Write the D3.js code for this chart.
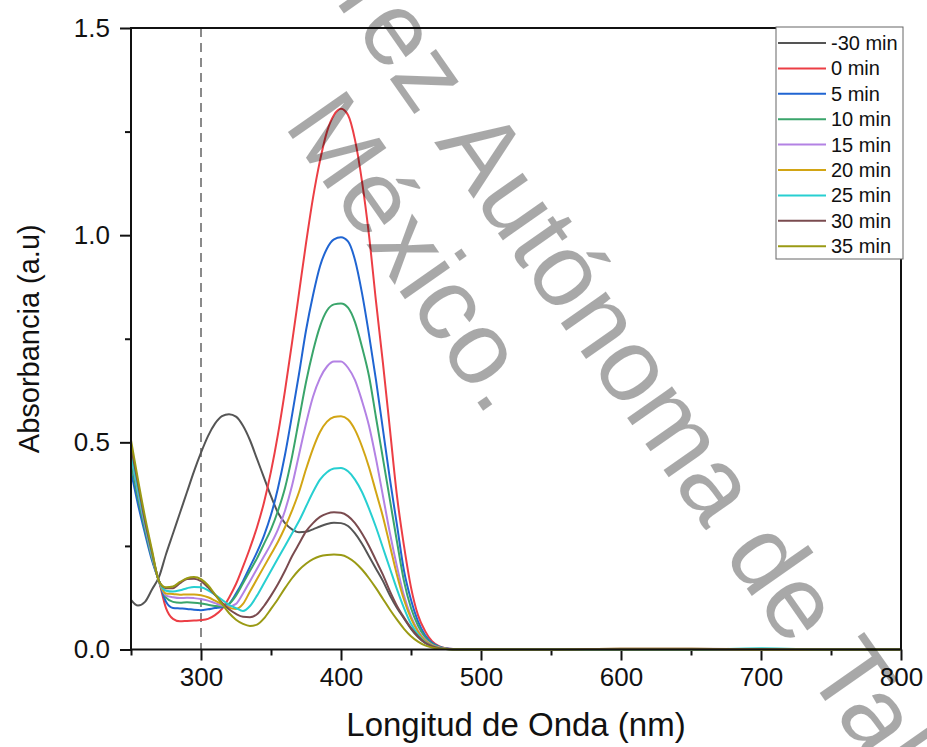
<!DOCTYPE html>
<html>
<head>
<meta charset="utf-8">
<script src="https://cdn.jsdelivr.net/npm/d3@7/dist/d3.min.js"></script>
<style>
  html, body { margin: 0; padding: 0; background: #fff; }
  svg { display: block; font-family: "Liberation Sans", Arial, sans-serif; }
</style>
</head>
<body>
<svg id="chart" width="927" height="747"></svg>
<script>
// Wavelength grid (nm)
const wavelengths = [250,255,260,265,270,275,280,285,290,295,300,305,310,315,320,325,330,335,340,345,
  350,355,360,365,370,375,380,385,390,395,400,405,410,415,420,425,430,435,440,445,
  450,455,460,465,470,475,480,490,500,550,600,650,700,750,800];

// Absorbance per sampling time
const absMinus30 = [.12,.106,.115,.145,.175,.23,.28,.33,.38,.43,.475,.515,.545,.563,.568,.562,.54,.505,.46,.415,
  .37,.33,.305,.29,.283,.284,.29,.297,.303,.306,.305,.298,.28,.255,.225,.195,.165,.13,.1,.075,
  .05,.03,.016,.008,.003,.001,0,0,0,0,0,0,0,0,0];
const abs0 = [.46,.37,.29,.22,.165,.10,.074,.068,.069,.07,.071,.074,.083,.098,.125,.158,.20,.245,.295,.355,
  .43,.52,.625,.74,.86,.98,1.09,1.18,1.25,1.29,1.305,1.29,1.23,1.13,1.0,.84,.69,.53,.37,.25,
  .15,.083,.045,.02,.008,.003,.001,0,0,0,0,0,0,0,0];
const abs5 = [.43,.35,.28,.215,.165,.115,.1,.099,.098,.096,.095,.097,.1,.102,.11,.135,.165,.20,.235,.275,
  .325,.39,.47,.565,.665,.77,.855,.925,.968,.99,.995,.985,.94,.86,.76,.65,.53,.41,.30,.19,
  .12,.068,.035,.016,.007,.003,.001,0,0,0,0,0,0,0,0];
const abs10 = [.45,.365,.29,.22,.165,.125,.115,.113,.114,.113,.111,.108,.105,.104,.11,.13,.16,.19,.22,.255,
  .29,.335,.39,.465,.555,.645,.72,.78,.818,.833,.835,.825,.79,.73,.66,.56,.46,.36,.26,.165,
  .1,.058,.03,.014,.006,.002,.001,0,0,0,0,0,0,0,0];
const abs15 = [.47,.38,.30,.225,.165,.13,.126,.124,.125,.124,.122,.118,.112,.106,.104,.11,.135,.165,.195,.225,
  .255,.29,.335,.395,.47,.545,.61,.655,.683,.695,.695,.68,.65,.60,.54,.46,.37,.28,.2,.13,
  .08,.046,.024,.011,.005,.002,.001,0,0,0,0,0,0,0,0];
const abs20 = [.48,.39,.31,.23,.165,.135,.134,.132,.133,.133,.131,.126,.118,.109,.101,.098,.11,.14,.17,.20,
  .23,.26,.295,.335,.38,.435,.485,.525,.55,.561,.563,.555,.53,.49,.44,.38,.32,.25,.18,.12,
  .075,.043,.022,.01,.004,.002,.001,0,0,0,.002,.002,0,0,0];
const abs25 = [.47,.385,.305,.23,.165,.142,.14,.143,.148,.151,.15,.143,.132,.12,.108,.1,.093,.105,.13,.16,
  .19,.22,.25,.28,.31,.345,.38,.41,.428,.437,.438,.43,.41,.38,.34,.295,.245,.195,.145,.1,
  .062,.036,.018,.008,.003,.001,0,0,0,0,0,0,.003,0,0];
const abs30 = [.49,.40,.31,.235,.165,.148,.148,.16,.17,.171,.165,.15,.132,.113,.097,.086,.079,.078,.085,.105,
  .13,.158,.19,.225,.255,.285,.305,.32,.328,.331,.33,.322,.305,.28,.25,.215,.18,.14,.105,.077,
  .052,.032,.017,.008,.003,.001,0,0,0,0,.002,.002,.001,0,0];
const abs35 = [.505,.41,.32,.24,.165,.15,.152,.163,.172,.175,.17,.155,.133,.11,.088,.072,.062,.057,.06,.075,
  .098,.122,.148,.172,.192,.207,.218,.225,.228,.229,.228,.222,.21,.193,.172,.148,.122,.096,.072,.05,
  .032,.019,.01,.005,.002,.001,0,0,0,0,0,0,0,0,0];

const seriesNames = ["-30 min","0 min","5 min","10 min","15 min","20 min","25 min","30 min","35 min"];
const seriesValues = [absMinus30, abs0, abs5, abs10, abs15, abs20, abs25, abs30, abs35];
const seriesColors = ["#555555","#ec3e45","#2065d2","#3aa56b","#b382e4","#d2a514","#27cfd1","#7a4b4f","#9a9a14"];

const xMajorTicks = [300,400,500,600,700,800];
const xMinorTicks = [250,350,450,550,650,750];
const yMajorTicks = [0,0.5,1.0,1.5];
const yMinorTicks = [0.25,0.75,1.25];
const markerWavelength = 300;

const svg = d3.select("#chart");
const W = 927, H = 747;
const margin = {left: 131, right: 26, top: 28, bottom: 97.5};

const x = d3.scaleLinear().domain([250, 800]).range([margin.left, W - margin.right]);
const y = d3.scaleLinear().domain([0, 1.5]).range([H - margin.bottom, margin.top]);

// Axes (ticks outward on left and bottom)
const fmtY = d3.format(".1f");
const gx = svg.append("g").attr("transform", `translate(0,${y(0)})`)
  .call(d3.axisBottom(x).tickValues(xMajorTicks).tickFormat(d3.format("d")).tickSize(11).tickPadding(7));
const gxMinor = svg.append("g").attr("transform", `translate(0,${y(0)})`)
  .call(d3.axisBottom(x).tickValues(xMinorTicks).tickFormat("").tickSize(6));
const gy = svg.append("g").attr("transform", `translate(${x(250)},0)`)
  .call(d3.axisLeft(y).tickValues(yMajorTicks).tickFormat(fmtY).tickSize(11).tickPadding(10));
const gyMinor = svg.append("g").attr("transform", `translate(${x(250)},0)`)
  .call(d3.axisLeft(y).tickValues(yMinorTicks).tickFormat("").tickSize(6));

[gx, gxMinor, gy, gyMinor].forEach(g => {
  g.select(".domain").remove();
  g.selectAll(".tick line").attr("stroke", "#111").attr("stroke-width", 2);
  g.selectAll(".tick text").attr("fill", "#111")
    .style("font-family", '"Liberation Sans", Arial, sans-serif').style("font-size", "26px");
});

// Reference wavelength marker
svg.append("line")
  .attr("x1", x(markerWavelength)).attr("x2", x(markerWavelength))
  .attr("y1", y(1.5)).attr("y2", y(0))
  .attr("stroke", "#8a8a8a").attr("stroke-width", 2).attr("stroke-dasharray", "9,6");

// Spectra
const line = d3.line()
  .x((d, i) => x(wavelengths[i]))
  .y(d => y(d))
  .curve(d3.curveMonotoneX);

svg.append("g").selectAll("path")
  .data(seriesValues)
  .join("path")
  .attr("d", d => line(d))
  .attr("fill", "none")
  .attr("stroke", (d, i) => seriesColors[i])
  .attr("stroke-width", 2)
  .attr("stroke-linejoin", "round");

// Frame
svg.append("rect")
  .attr("x", x(250)).attr("y", y(1.5))
  .attr("width", x(800) - x(250)).attr("height", y(0) - y(1.5))
  .attr("fill", "none").attr("stroke", "#111").attr("stroke-width", 2);

// Axis titles
svg.append("text")
  .attr("x", (x(250) + x(800)) / 2).attr("y", 736)
  .attr("text-anchor", "middle")
  .style("font-size", "33px").attr("fill", "#111")
  .text("Longitud de Onda (nm)");

svg.append("text")
  .attr("transform", `translate(39,${(y(0) + y(1.5)) / 2}) rotate(-90)`)
  .attr("text-anchor", "middle")
  .style("font-size", "29px").attr("fill", "#111")
  .text("Absorbancia (a.u)");

// Legend
const legend = svg.append("g");
legend.append("rect")
  .attr("x", 776).attr("y", 27).attr("width", 127).attr("height", 232)
  .attr("fill", "#fff").attr("stroke", "#666").attr("stroke-width", 1);
const rows = legend.selectAll("g.row").data(seriesNames).join("g")
  .attr("class", "row")
  .attr("transform", (d, i) => `translate(0,${43 + i * 25.4})`);
rows.append("line")
  .attr("x1", 778).attr("x2", 826).attr("y1", 0).attr("y2", 0)
  .attr("stroke", (d, i) => seriesColors[i]).attr("stroke-width", 2);
rows.append("text")
  .attr("x", 831).attr("y", 0).attr("dy", "0.35em")
  .style("font-size", "20px").attr("fill", "#111")
  .text(d => d);

// Institutional watermark
const wm = svg.append("g").attr("fill", "#000").attr("fill-opacity", 0.34)
  .style("font-size", "104px").style("font-family", '"Liberation Sans", Arial, sans-serif');
const wm1 = wm.append("g").attr("transform", "translate(434,142) rotate(55)");
wm1.append("text").attr("x", -29).attr("text-anchor", "end").text("Universidad Juárez");
wm1.append("text").attr("x", 0).text("Autónoma de Tabasco");
wm.append("g").attr("transform", "translate(283,125) rotate(55)")
  .append("text").attr("x", 0).text("México.");
</script>
</body>
</html>
